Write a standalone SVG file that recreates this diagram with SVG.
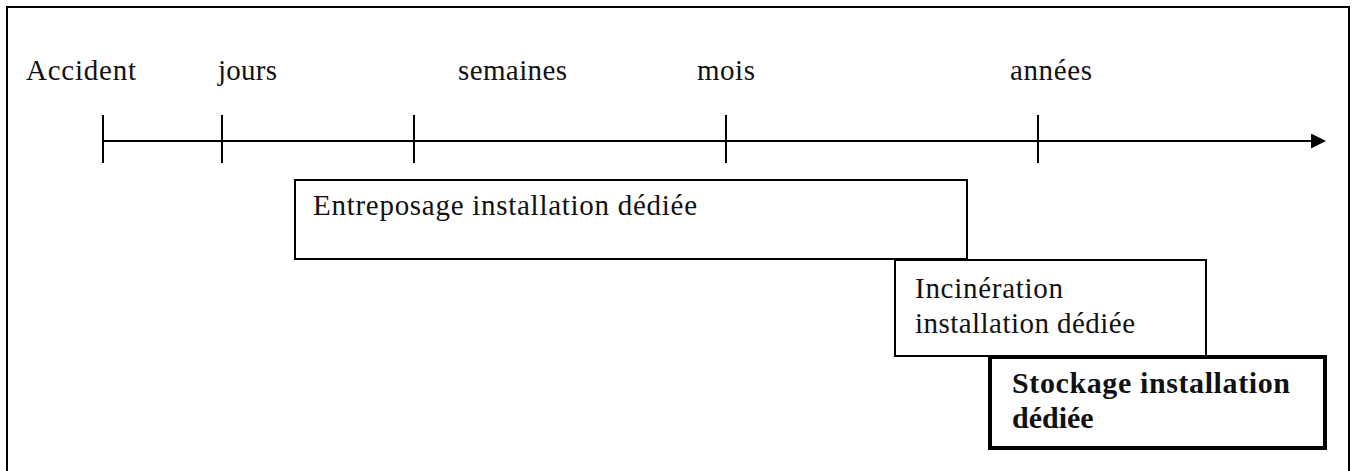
<svg xmlns="http://www.w3.org/2000/svg" width="1357" height="471" viewBox="0 0 1357 471">
  <style>
    .frame { fill: #fff; stroke: #000; stroke-width: 2; }
    .box { fill: #fff; stroke: #000; stroke-width: 2; }
    .box-strong { fill: #fff; stroke: #000; stroke-width: 4; }
    .axis { stroke: #000; stroke-width: 2; fill: none; }
    .tick { stroke: #000; stroke-width: 2; }
    .lbl { font-family: "Liberation Serif", "DejaVu Serif", serif; font-size: 29px; fill: #111; }
    .lbl-b { font-family: "Liberation Serif", "DejaVu Serif", serif; font-size: 30px; font-weight: bold; fill: #111; }
  </style>
  <defs>
    <marker id="arrow" markerWidth="16" markerHeight="16" refX="0" refY="7.5" orient="auto" markerUnits="userSpaceOnUse">
      <path d="M0,0 L15,7.5 L0,15 Z" fill="#000"/>
    </marker>
  </defs>

  <!-- page frame -->
  <rect class="frame" x="7" y="7" width="1342" height="500"/>

  <!-- time scale labels -->
  <g id="scale-labels">
    <text class="lbl" x="26" y="80" textLength="110" lengthAdjust="spacing">Accident</text>
    <text class="lbl" x="218" y="80" textLength="59" lengthAdjust="spacing">jours</text>
    <text class="lbl" x="458" y="80" textLength="109" lengthAdjust="spacing">semaines</text>
    <text class="lbl" x="697" y="80" textLength="58" lengthAdjust="spacing">mois</text>
    <text class="lbl" x="1010" y="80" textLength="82" lengthAdjust="spacing">années</text>
  </g>

  <!-- time axis with ticks -->
  <g id="connectors">
    <line class="axis" x1="103" y1="141" x2="1311" y2="141" marker-end="url(#arrow)"/>
    <line class="tick" x1="103" y1="115" x2="103" y2="163"/>
    <line class="tick" x1="222" y1="115" x2="222" y2="163"/>
    <line class="tick" x1="414" y1="115" x2="414" y2="163"/>
    <line class="tick" x1="726" y1="115" x2="726" y2="163"/>
    <line class="tick" x1="1038" y1="115" x2="1038" y2="163"/>
  </g>

  <!-- phases -->
  <g id="entreposage">
    <rect class="box" x="295" y="180" width="672" height="79"/>
    <text class="lbl" x="313" y="215" textLength="384" lengthAdjust="spacing">Entreposage installation dédiée</text>
  </g>

  <g id="incineration">
    <rect class="box" x="895" y="260" width="311" height="96"/>
    <text class="lbl" x="915" y="298" textLength="148" lengthAdjust="spacing">Incinération</text>
    <text class="lbl" x="915" y="333" textLength="220" lengthAdjust="spacing">installation dédiée</text>
  </g>

  <g id="stockage">
    <rect class="box-strong" x="990" y="357" width="335" height="91"/>
    <text class="lbl-b" x="1012" y="393" textLength="278" lengthAdjust="spacing">Stockage installation</text>
    <text class="lbl-b" x="1012" y="428">dédiée</text>
  </g>
</svg>
